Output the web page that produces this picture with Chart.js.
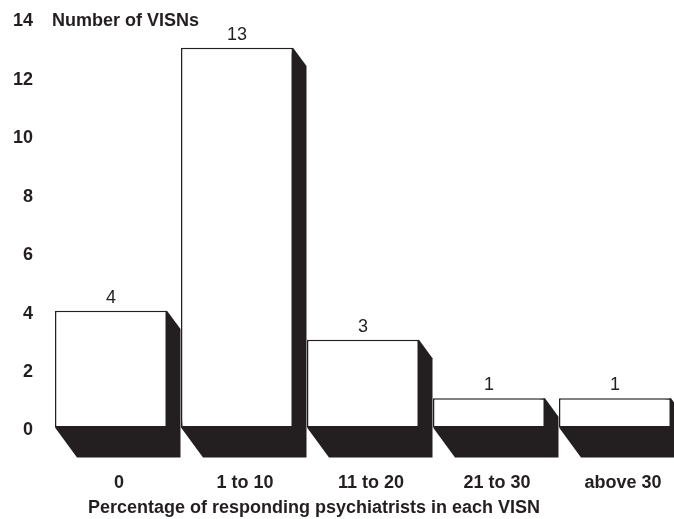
<!DOCTYPE html>
<html>
<head>
<meta charset="utf-8">
<script src="https://cdn.jsdelivr.net/npm/chart.js@4/dist/chart.umd.min.js"></script>
<style>
  html, body { margin: 0; padding: 0; background: #ffffff; overflow: hidden; }
  #wrap { position: relative; width: 684px; height: 519px; }
</style>
</head>
<body>
<div id="wrap"><canvas id="c"></canvas></div>
<script>
// ---- data ----
const categories = ['0', '1 to 10', '11 to 20', '21 to 30', 'above 30'];
const visnCounts = [4, 13, 3, 1, 1];
const yTicks = [0, 2, 4, 6, 8, 10, 12, 14];
const yAxisTitle = 'Number of VISNs';
const xAxisTitle = 'Percentage of responding psychiatrists in each VISN';

const INK = '#231f20';
const FONT = "'Liberation Sans', Arial, Helvetica, sans-serif";

// 3D-style black extrusion behind each bar
const shadowPlugin = {
  id: 'shadow3d',
  beforeDatasetsDraw(chart) {
    const ctx = chart.ctx;
    const meta = chart.getDatasetMeta(0);
    const dx = 22, dy = 30, side = 13.5;
    ctx.save();
    ctx.fillStyle = INK;
    meta.data.forEach(bar => {
      const p = bar.getProps(['x', 'y', 'base', 'width'], true);
      const left = p.x - p.width / 2, right = p.x + p.width / 2;
      const top = p.y, base = p.base;
      ctx.beginPath();
      ctx.moveTo(right, top);
      ctx.lineTo(right + side, top + side * dy / dx);
      ctx.lineTo(right + side, base + dy);
      ctx.lineTo(left + dx, base + dy);
      ctx.lineTo(left, base);
      ctx.closePath();
      ctx.fill();
    });
    ctx.restore();
  },
  afterDatasetsDraw(chart) {
    const ctx = chart.ctx;
    const meta = chart.getDatasetMeta(0);
    const ds = chart.data.datasets[0];
    ctx.save();
    ctx.fillStyle = INK;
    ctx.font = '18px ' + FONT;
    ctx.textAlign = 'center';
    ctx.textBaseline = 'alphabetic';
    meta.data.forEach((bar, i) => {
      const p = bar.getProps(['x', 'y'], true);
      ctx.fillText(String(ds.data[i]), p.x, p.y - 8);
    });
    // axis titles
    const area = chart.chartArea;
    ctx.font = 'bold 18px ' + FONT;
    ctx.textAlign = 'left';
    ctx.textBaseline = 'middle';
    ctx.fillText(yAxisTitle, area.left + 4, chart.scales.y.getPixelForValue(14) + 3);
    ctx.textAlign = 'center';
    ctx.fillText(xAxisTitle, area.left + 266, 508);
    ctx.restore();
  }
};

new Chart(document.getElementById('c'), {
  type: 'bar',
  data: {
    labels: categories,
    datasets: [{
      data: visnCounts,
      backgroundColor: '#ffffff',
      borderColor: INK,
      borderWidth: 1.5,
      borderSkipped: false,
      categoryPercentage: 0.889,
      barPercentage: 1.0
    }]
  },
  options: {
    responsive: true,
    maintainAspectRatio: false,
    animation: false,
    layout: { padding: { top: 18.5, right: 6, left: 0, bottom: 0 } },
    plugins: { legend: { display: false }, tooltip: { enabled: false }, title: { display: false } },
    scales: {
      x: {
        grid: { display: false, drawTicks: false },
        border: { display: false },
        ticks: {
          color: INK,
          font: { family: FONT, size: 18, weight: 'bold' },
          padding: 45,
          labelOffset: 8,
          maxRotation: 0,
          autoSkip: false
        },
        afterFit(scale) { scale.height = 91.5; scale.paddingLeft = 0; scale.paddingRight = 0; }
      },
      y: {
        min: 0,
        max: 14,
        grid: { display: false, drawTicks: false },
        border: { display: false },
        afterBuildTicks(scale) { scale.ticks = yTicks.map(v => ({ value: v })); },
        ticks: {
          color: INK,
          font: { family: FONT, size: 18, weight: 'bold' },
          padding: 15,
          labelOffset: 3
        },
        afterFit(scale) { scale.width = 48; scale.paddingTop = 0; scale.paddingBottom = 0; }
      }
    }
  },
  plugins: [shadowPlugin]
});
</script>
</body>
</html>
